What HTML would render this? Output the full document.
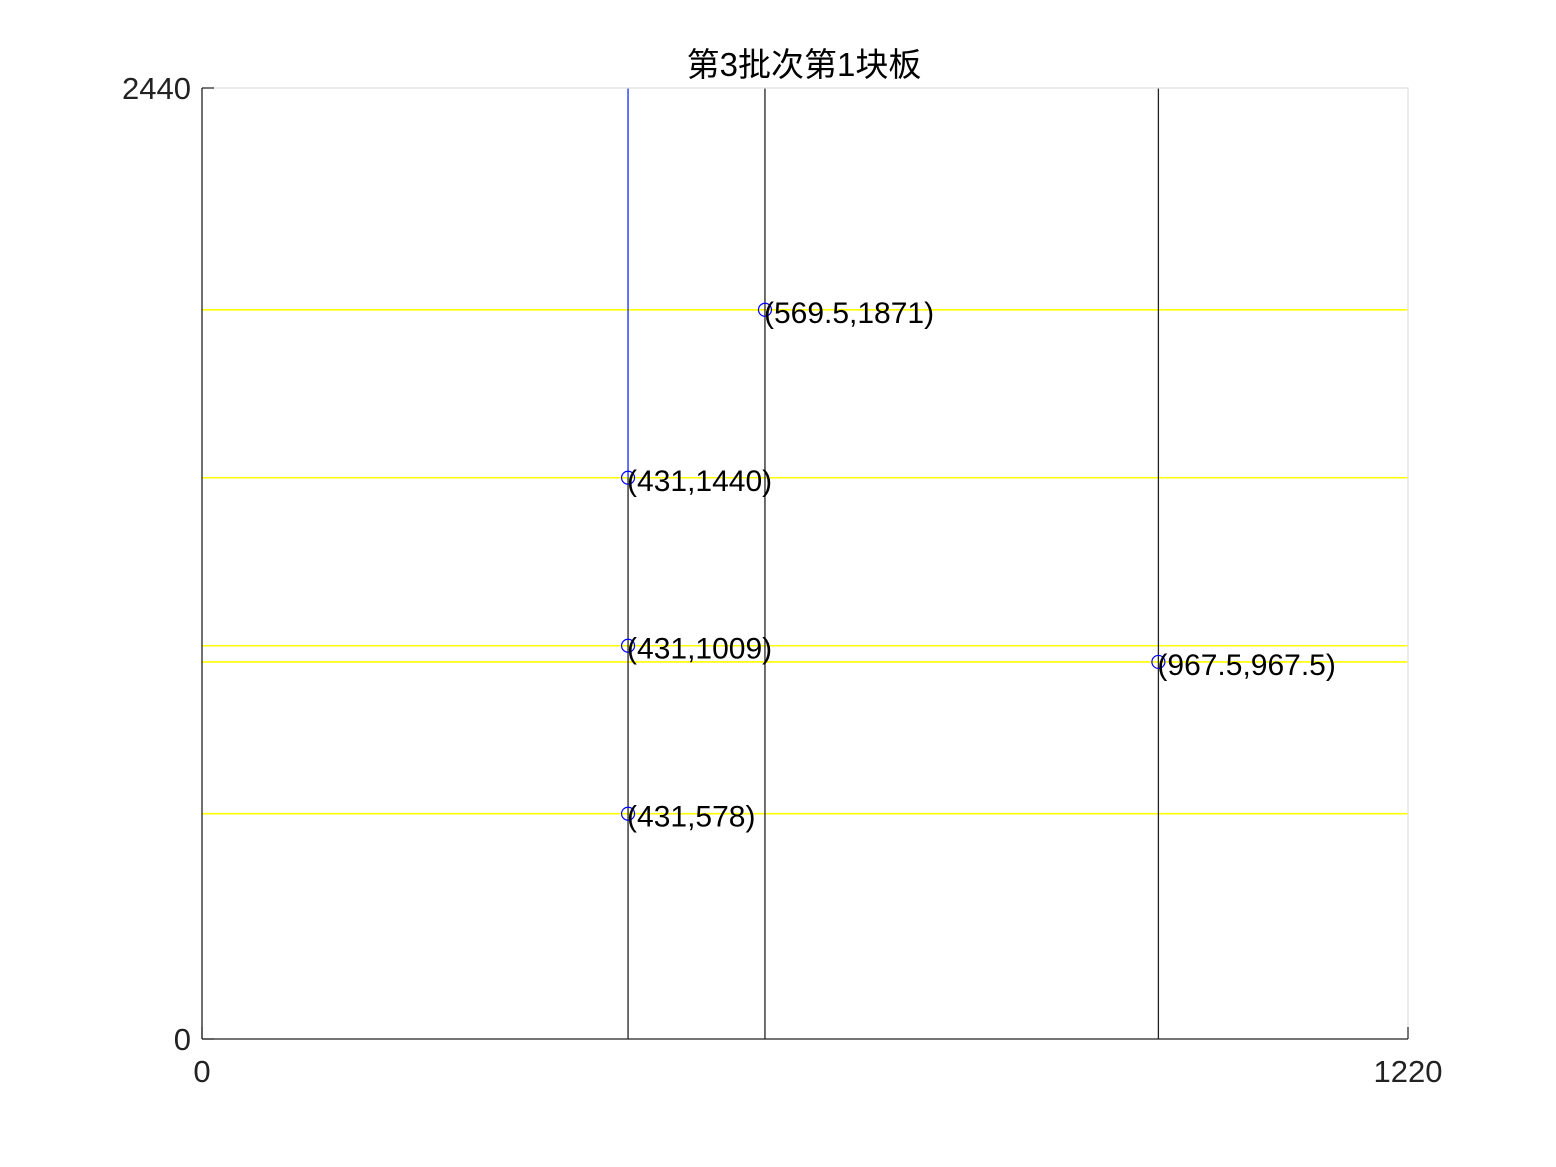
<!DOCTYPE html>
<html><head><meta charset="utf-8"><style>
html,body{margin:0;padding:0;background:#fff;}
svg{display:block;font-family:"Liberation Sans","Noto Sans CJK SC",sans-serif;}
</style></head><body>
<svg id="chart" width="1556" height="1167" viewBox="0 0 1556 1167">
<rect x="0" y="0" width="1556" height="1167" fill="#fff"/>
<text x="804" y="76" font-size="33" text-anchor="middle" fill="#000">第3批次第1块板</text>
<g id="marks"></g>
<g id="axes"></g>
</svg>
<script>
const xTicks=[0,1220];
const yTicks=[0,2440];
const hLinesY=[1871,1440,1009,967.5,578];
const vBlackX=[431,569.5,967.5];
const vBlackTop=[1440,2440,2440];
const vBlueX=[431];
const vBlueBottom=[1440];
const vBlueTop=[2440];
const pointsX=[569.5,431,431,967.5,431];
const pointsY=[1871,1440,1009,967.5,578];
const pointLabels=['(569.5,1871)','(431,1440)','(431,1009)','(967.5,967.5)','(431,578)'];

const L=202,R=1408,T=88,B=1039;
const sx=v=>L+(v-0)/(1220-0)*(R-L);
const sy=v=>B-(v-0)/(2440-0)*(B-T);
const NS='http://www.w3.org/2000/svg';
const marks=document.getElementById('marks');
const axes=document.getElementById('axes');
function mk(tag,attrs,parent){const e=document.createElementNS(NS,tag);for(const k in attrs)e.setAttribute(k,attrs[k]);parent.appendChild(e);return e;}

let fr=mk('path',{d:`M${L},${T}H${R}V${B}`,stroke:'#e0e0e0','stroke-width':1.2,fill:'none'},axes);



hLinesY.forEach((v,i)=>{
 const l=mk('line',{x1:sx(0),x2:sx(1220),y1:sy(v),y2:sy(v),stroke:'#ffff00','stroke-width':1.6},marks);
 
 
});
vBlackX.forEach((v,i)=>{
 const l=mk('line',{x1:sx(v),x2:sx(v),y1:sy(0),y2:sy(vBlackTop[i]),stroke:'#222','stroke-width':1.3},marks);
 
 
});
vBlueX.forEach((v,i)=>{
 const l=mk('line',{x1:sx(v),x2:sx(v),y1:sy(vBlueBottom[i]),y2:sy(vBlueTop[i]),stroke:'#3344ff','stroke-width':1.5},marks);
 
 
});
pointsX.forEach((v,i)=>{
 const c=mk('circle',{cx:sx(v),cy:sy(pointsY[i]),r:6.5,fill:'none',stroke:'#0000ff','stroke-width':1.2},marks);
 
 
 const t=mk('text',{x:sx(v)-1,y:sy(pointsY[i])+13,'font-size':30,fill:'#000'},marks);
 t.textContent=pointLabels[i];
 
 
});

let ax=mk('line',{x1:L,x2:R,y1:B,y2:B,stroke:'#222','stroke-width':1.3},axes);


let ay=mk('line',{x1:L,x2:L,y1:T,y2:B,stroke:'#222','stroke-width':1.3},axes);


xTicks.forEach(v=>{
 const tk=mk('line',{x1:sx(v),x2:sx(v),y1:B,y2:B-12,stroke:'#222','stroke-width':1.2},axes);
 
 
 const t=mk('text',{x:sx(v),y:B+43,'font-size':31,'text-anchor':'middle',fill:'#222'},axes);
 t.textContent=v;
 
 
});
yTicks.forEach(v=>{
 const tk=mk('line',{x1:L,x2:L+12,y1:sy(v),y2:sy(v),stroke:'#222','stroke-width':1.2},axes);
 
 
 const t=mk('text',{x:L-11,y:sy(v)+11,'font-size':31,'text-anchor':'end',fill:'#222'},axes);
 t.textContent=v;
 
 
});
</script>
</body></html>
